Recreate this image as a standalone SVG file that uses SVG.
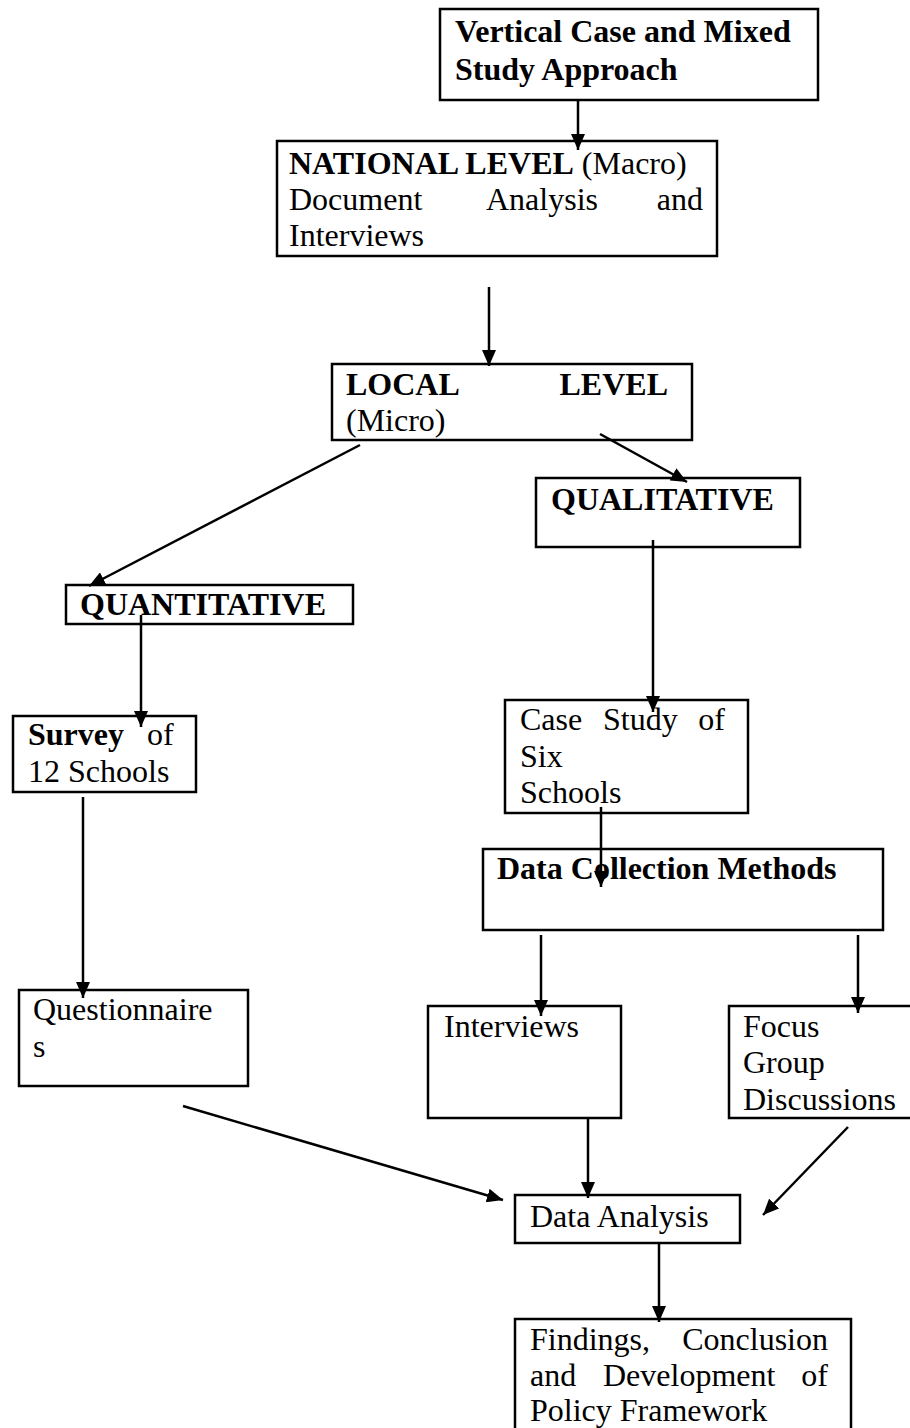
<svg xmlns="http://www.w3.org/2000/svg" width="910" height="1428" viewBox="0 0 910 1428">
<defs>
<style>
.box{fill:#fff;stroke:#000;stroke-width:2.5}
.t{font-family:"Liberation Serif","Times New Roman",serif;font-size:32px;fill:#000}
.b{font-weight:bold}
.c{stroke:#000;stroke-width:2.5;fill:none}
</style>
<marker id="ah" markerUnits="userSpaceOnUse" markerWidth="16" markerHeight="14" viewBox="0 0 16 14" refX="16" refY="7" orient="auto">
<path d="M0,0 L16,7 L0,14 z" fill="#000"/>
</marker>
</defs>
<rect width="910" height="1428" fill="#fff"/>

<g id="n-approach">
<rect class="box" x="440" y="9" width="378" height="91"/>
<text class="t b" x="455" y="42">Vertical Case and Mixed</text>
<text class="t b" x="455" y="80">Study Approach</text>
</g>

<g id="n-national">
<rect class="box" x="277" y="141" width="440" height="115"/>
<text class="t" x="289" y="174"><tspan class="b">NATIONAL LEVEL</tspan> (Macro)</text>
<text class="t" x="289" y="210">Document</text>
<text class="t" x="486" y="210">Analysis</text>
<text class="t" x="703" y="210" text-anchor="end">and</text>
<text class="t" x="289" y="246">Interviews</text>
</g>

<g id="n-local">
<rect class="box" x="332" y="364" width="360" height="76"/>
<text class="t b" x="346" y="395">LOCAL</text>
<text class="t b" x="668" y="395" text-anchor="end">LEVEL</text>
<text class="t" x="346" y="431">(Micro)</text>
</g>

<g id="n-qualitative">
<rect class="box" x="536" y="478" width="264" height="69"/>
<text class="t b" x="551" y="510">QUALITATIVE</text>
</g>

<g id="n-quantitative">
<rect class="box" x="66" y="585" width="287" height="39"/>
<text class="t b" x="80" y="615">QUANTITATIVE</text>
</g>

<g id="n-survey">
<rect class="box" x="13" y="716" width="183" height="76"/>
<text class="t b" x="28" y="745">Survey</text>
<text class="t" x="147" y="745">of</text>
<text class="t" x="28" y="782">12 Schools</text>
</g>

<g id="n-casestudy">
<rect class="box" x="505" y="700" width="243" height="113"/>
<text class="t" x="520" y="730">Case</text>
<text class="t" x="603" y="730">Study</text>
<text class="t" x="725" y="730" text-anchor="end">of</text>
<text class="t" x="520" y="767">Six</text>
<text class="t" x="520" y="803">Schools</text>
</g>

<g id="n-methods">
<rect class="box" x="483" y="849" width="400" height="81"/>
<text class="t b" x="497" y="879">Data Collection Methods</text>
</g>

<g id="n-questionnaires">
<rect class="box" x="19" y="990" width="229" height="96"/>
<text class="t" x="33" y="1020">Questionnaire</text>
<text class="t" x="33" y="1057">s</text>
</g>

<g id="n-interviews">
<rect class="box" x="428" y="1006" width="193" height="112"/>
<text class="t" x="444" y="1037">Interviews</text>
</g>

<g id="n-focus">
<rect class="box" x="729" y="1006" width="190" height="112"/>
<text class="t" x="743" y="1037">Focus</text>
<text class="t" x="743" y="1073">Group</text>
<text class="t" x="743" y="1110">Discussions</text>
</g>

<g id="n-analysis">
<rect class="box" x="515" y="1195" width="225" height="48"/>
<text class="t" x="530" y="1227">Data Analysis</text>
</g>

<g id="n-findings">
<rect class="box" x="515" y="1319" width="336" height="120"/>
<text class="t" x="530" y="1350">Findings,</text>
<text class="t" x="828" y="1350" text-anchor="end">Conclusion</text>
<text class="t" x="530" y="1386">and</text>
<text class="t" x="603" y="1386">Development</text>
<text class="t" x="828" y="1386" text-anchor="end">of</text>
<text class="t" x="530" y="1421">Policy Framework</text>
</g>

<g id="connectors" class="c">
<line x1="578" y1="100" x2="578" y2="150" marker-end="url(#ah)"/>
<line x1="489" y1="287" x2="489" y2="366" marker-end="url(#ah)"/>
<line x1="600" y1="434" x2="687" y2="482" marker-end="url(#ah)"/>
<line x1="360" y1="445" x2="89" y2="586" marker-end="url(#ah)"/>
<line x1="141" y1="615" x2="141" y2="727" marker-end="url(#ah)"/>
<line x1="653" y1="540" x2="653" y2="712" marker-end="url(#ah)"/>
<line x1="83" y1="797" x2="83" y2="998" marker-end="url(#ah)"/>
<line x1="601" y1="807" x2="601" y2="887" marker-end="url(#ah)"/>
<line x1="541" y1="935" x2="541" y2="1016" marker-end="url(#ah)"/>
<line x1="858" y1="935" x2="858" y2="1013" marker-end="url(#ah)"/>
<line x1="183" y1="1106" x2="503" y2="1200" marker-end="url(#ah)"/>
<line x1="588" y1="1118" x2="588" y2="1198" marker-end="url(#ah)"/>
<line x1="848" y1="1127" x2="763" y2="1215" marker-end="url(#ah)"/>
<line x1="659" y1="1243" x2="659" y2="1322" marker-end="url(#ah)"/>
</g>
</svg>
